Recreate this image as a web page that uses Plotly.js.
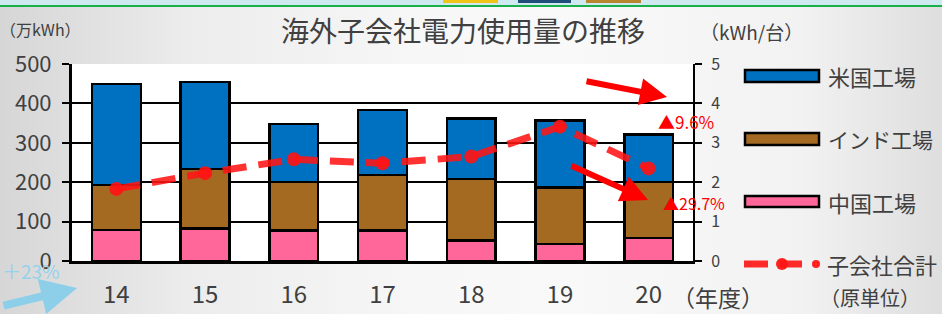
<!DOCTYPE html>
<html><head><meta charset="utf-8">
<script src="https://cdn.plot.ly/plotly-3.0.1.min.js"></script>
<style>
html,body{margin:0;padding:0;}
body{width:942px;height:314px;overflow:hidden;position:relative;
background:linear-gradient(to right,#d6d6d6 0%,#ececec 20%,#f7f7f7 45%,#f9f9f9 60%,#f2f2f2 85%,#dedede 100%);}
#strip{position:absolute;left:0;top:0;width:942px;height:5px;background:#cfe9f0;}
#green{position:absolute;left:0;top:5px;width:942px;height:2px;background:#19b04a;}
.box{position:absolute;top:0;height:3px;}
#chart{position:absolute;left:0;top:0;width:942px;height:314px;}
</style></head>
<body>
<div id="strip"></div><div id="green"></div>
<div class="box" style="left:443px;width:55px;background:#f2c418"></div>
<div class="box" style="left:518px;width:53px;background:#1f4e79"></div>
<div class="box" style="left:586px;width:55px;background:#b8862e"></div>
<div id="chart"></div>
<script>
const years = ['14','15','16','17','18','19','20'];
const china = [79, 82, 78, 78, 52, 43, 59];
const india = [114, 151, 122, 140, 156, 144, 142];
const usa = [256, 221, 148, 165, 154, 169, 120];
const unitTotal = [1.83, 2.23, 2.58, 2.48, 2.65, 3.41, 2.35];
const leftTicks = [0, 100, 200, 300, 400, 500];
const rightTicks = [0, 1, 2, 3, 4, 5];

const F = '"Noto Sans CJK JP", "Noto Sans", sans-serif';
const txt = '#404040';
const barLine = {color: '#000', width: 2.5};

const traces = [
  {type:'bar', x: years, y: china, name:'中国工場', marker:{color:'#ff6699', line: barLine}, width:0.55, showlegend:false},
  {type:'bar', x: years, y: india, name:'インド工場', marker:{color:'#a56a22', line: barLine}, width:0.55, showlegend:false},
  {type:'bar', x: years, y: usa, name:'米国工場', marker:{color:'#0070c0', line: barLine}, width:0.55, showlegend:false},
  {type:'scatter', mode:'lines+markers', x: years, y: unitTotal, yaxis:'y2', name:'子会社合計',
   line:{color:'rgba(255,20,20,0.88)', width:7, dash:'24px,12px'},
   marker:{color:'rgba(255,20,20,0.9)', size:14}, showlegend:false}
];

const px = v => (v - 72) / 621;
const py = v => (261 - v) / 197;

const ann = (x, y, text, size, color, xanchor) => ({
  xref:'paper', yref:'paper', x: px(x), y: py(y), text, showarrow:false,
  xanchor: xanchor || 'center', yanchor:'middle',
  font:{family:F, size, color: color || txt}
});

const arrow = (hx, hy, tx, ty, color, w) => ({
  xref:'paper', yref:'paper', x: px(hx), y: py(hy), axref:'pixel', ayref:'pixel',
  ax: tx - hx, ay: ty - hy, text:'', showarrow:true, arrowhead:2, arrowsize:0.9,
  arrowwidth:w, arrowcolor:color, standoff:0, startstandoff:0
});

const annotations = [
  ann(463, 30, '海外子会社電力使用量の推移', 28),
  ann(40, 29, '（万kWh）', 16),
  ann(751, 31, '（kWh/台）', 19),
  ann(670, 297, '（年度）', 23, txt, 'left'),
  ann(826, 76, '米国工場', 22, txt, 'left'),
  ann(826, 139, 'インド工場', 21, txt, 'left'),
  ann(826, 202, '中国工場', 22, txt, 'left'),
  ann(825, 264, '子会社合計', 22, txt, 'left'),
  ann(818, 297, '（原単位）', 20, txt, 'left'),
  ann(686, 121, '▲9.6%', 17, '#ff0000'),
  ann(694, 203, '▲29.7%', 16, '#ff0000'),
  ann(31, 270, '＋23%', 19, '#93d2ec'),
  arrow(667, 97, 585, 81, '#ff0000', 6),
  arrow(648, 200, 570, 165, '#ff0000', 6),
  arrow(77, 288, 2, 306, '#8dcfe9', 8)
];

const rect = (x0, y0, x1, y1, fill) => ({type:'rect', xref:'paper', yref:'paper',
  x0: px(x0), x1: px(x1), y0: py(y0), y1: py(y1), fillcolor: fill, line:{color:'#000', width:2.5}, layer:'above'});
const shapes = [
  rect(745, 70, 819, 82, '#0070c0'),
  rect(745, 133, 819, 145, '#a56a22'),
  rect(745, 196, 819, 207, '#ff6699'),
  {type:'line', xref:'paper', yref:'paper', x0:px(744), x1:px(768), y0:py(264), y1:py(264),
   line:{color:'rgba(255,20,20,0.9)', width:7}},
  {type:'line', xref:'paper', yref:'paper', x0:px(780), x1:px(802), y0:py(264), y1:py(264),
   line:{color:'rgba(255,20,20,0.9)', width:7}},
  {type:'circle', xref:'paper', yref:'paper', x0:px(776), x1:px(788), y0:py(258), y1:py(270),
   fillcolor:'rgba(255,20,20,0.95)', line:{width:0}},
  {type:'circle', xref:'paper', yref:'paper', x0:px(812), x1:px(820), y0:py(260), y1:py(268),
   fillcolor:'rgba(255,20,20,0.95)', line:{width:0}}
];

const layout = {
  width:942, height:314,
  margin:{l:72, r:249, t:64, b:53, pad:0},
  paper_bgcolor:'rgba(0,0,0,0)', plot_bgcolor:'#ffffff',
  barmode:'stack', bargap:0.45,
  font:{family:F, color:txt},
  xaxis:{type:'category', tickfont:{size:24, color:txt}, showline:true, linecolor:'#000', linewidth:3,
    ticks:'', showgrid:false, zeroline:false, ticklabelstandoff:10, fixedrange:true},
  yaxis:{range:[0,500], tickvals:leftTicks, ticktext:leftTicks.map(String), tickfont:{size:22, color:txt},
    showline:true, linecolor:'#000', linewidth:3, ticks:'outside', ticklen:7, tickwidth:2, tickcolor:'#000',
    showgrid:true, gridcolor:'#000', gridwidth:2, zeroline:false, ticklabelstandoff:6},
  yaxis2:{range:[0,5], overlaying:'y', side:'right', tickvals:rightTicks, ticktext:rightTicks.map(String),
    tickfont:{size:16, color:txt}, showline:true, linecolor:'#000', linewidth:2, ticks:'outside', ticklen:7,
    tickwidth:2, tickcolor:'#000', showgrid:false, zeroline:false, ticklabelstandoff:6},
  showlegend:false,
  annotations, shapes
};

Plotly.newPlot('chart', traces, layout, {staticPlot:true, displayModeBar:false});
</script>
</body></html>
